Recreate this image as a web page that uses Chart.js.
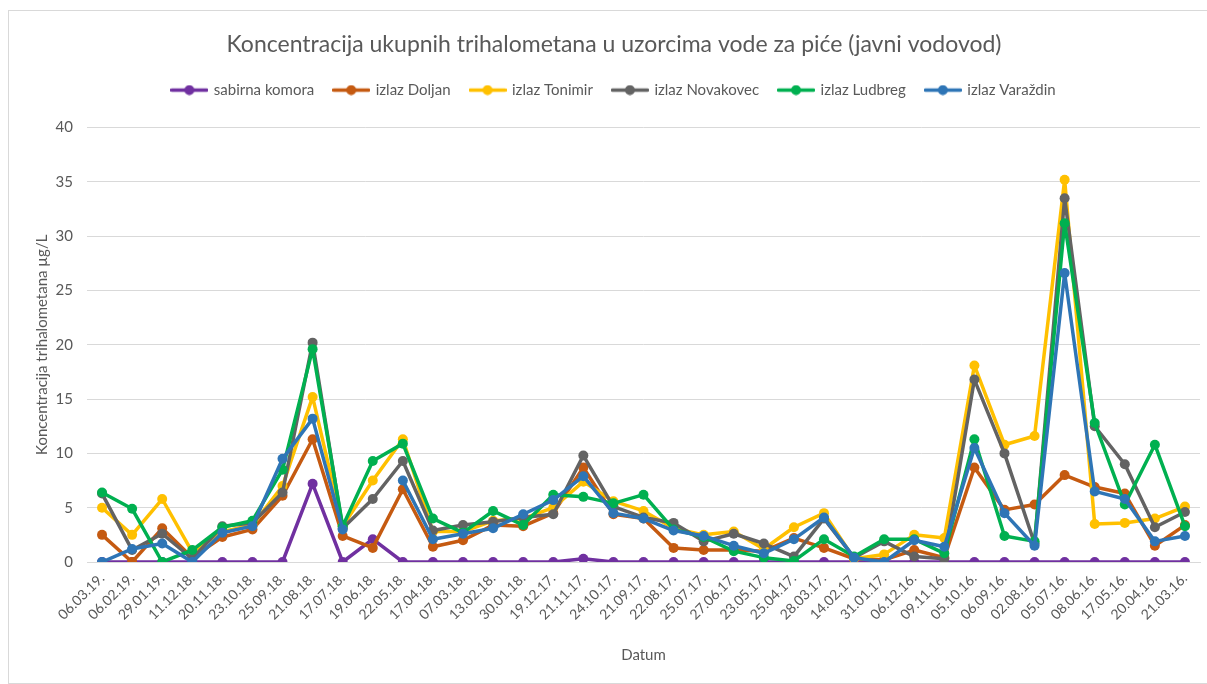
<!DOCTYPE html>
<html>
<head>
<meta charset="utf-8">
<script src="https://cdn.jsdelivr.net/npm/chart.js@4.4.1/dist/chart.umd.min.js"></script>
<style>
  html, body { margin: 0; padding: 0; background: #fff; }
</style>
</head>
<body>
<canvas id="myChart" width="1207" height="684"></canvas>
<script>
const dates = [
  '06.03.19.', '06.02.19.', '29.01.19.', '11.12.18.', '20.11.18.', '23.10.18.', '25.09.18.',
  '21.08.18.', '17.07.18.', '19.06.18.', '22.05.18.', '17.04.18.', '07.03.18.', '13.02.18.',
  '30.01.18.', '19.12.17.', '21.11.17.', '24.10.17.', '21.09.17.', '22.08.17.', '25.07.17.',
  '27.06.17.', '23.05.17.', '25.04.17.', '28.03.17.', '14.02.17.', '31.01.17.', '06.12.16.',
  '09.11.16.', '05.10.16.', '06.09.16.', '02.08.16.', '05.07.16.', '08.06.16.', '17.05.16.',
  '20.04.16.', '21.03.16.'
];

const sabirnaKomora = [0, 0, 0, 0, 0, 0, 0, 7.2, 0, 2.1, 0, 0, 0, 0, 0, 0, 0.3, 0, 0, 0, 0,
  0, 0, 0, 0, 0, 0, 0, 0, 0, 0, 0, 0, 0, 0, 0, 0];
const izlazDoljan = [2.5, 0, 3.1, 0.4, 2.3, 3.0, 6.1, 11.3, 2.4, 1.3, 6.7, 1.4, 2.0, 3.4, 3.3,
  4.5, 8.7, 4.4, 4.0, 1.3, 1.1, 1.1, 1.0, 2.2, 1.3, 0.3, 0.2, 1.1, 0.4, 8.7, 4.8, 5.3, 8.0,
  6.9, 6.3, 1.5, 3.4];
const izlazTonimir = [5.0, 2.5, 5.8, 0.9, 2.8, 3.4, 7.0, 15.2, 3.3, 7.5, 11.3, 2.8, 2.8, 3.8,
  4.0, 5.0, 7.4, 5.6, 4.7, 3.1, 2.5, 2.8, 1.2, 3.2, 4.5, 0.3, 0.7, 2.5, 2.2, 18.1, 10.8, 11.6,
  35.2, 3.5, 3.6, 4.0, 5.1];
const izlazNovakovec = [6.3, 1.1, 2.6, 0.3, 3.3, 3.6, 6.4, 20.2, 3.1, 5.8, 9.3, 2.9, 3.4, 3.7,
  4.1, 4.4, 9.8, 5.1, 4.1, 3.6, 1.9, 2.6, 1.7, 0.5, 4.0, 0.4, 1.9, 0.5, 0.3, 16.8, 10.0, 1.7,
  33.5, 12.5, 9.0, 3.2, 4.6];
const izlazLudbreg = [6.4, 4.9, 0, 1.1, 3.2, 3.8, 8.5, 19.6, 3.3, 9.3, 10.9, 4.0, 2.7, 4.7,
  3.4, 6.2, 6.0, 5.4, 6.2, 3.0, 2.3, 1.0, 0.4, 0.1, 2.1, 0.5, 2.1, 2.1, 0.8, 11.3, 2.4, 1.9,
  31.2, 12.8, 5.3, 10.8, 3.3];
const izlazVarazdin = [0, 1.2, 1.7, 0, 2.7, 3.3, 9.5, 13.2, 3.0, null, 7.5, 2.1, 2.6, 3.1, 4.4,
  5.7, 7.9, 4.5, 4.0, 2.9, 2.4, 1.5, 0.8, 2.1, 4.1, 0.4, 0, 2.0, 1.4, 10.5, 4.5, 1.5, 26.6,
  6.5, 5.8, 1.9, 2.4];

const seriesNames = ['sabirna komora', 'izlaz Doljan', 'izlaz Tonimir', 'izlaz Novakovec',
  'izlaz Ludbreg', 'izlaz Varaždin'];
const seriesData = [sabirnaKomora, izlazDoljan, izlazTonimir, izlazNovakovec, izlazLudbreg,
  izlazVarazdin];
const seriesColors = ['#7030A0', '#C55A11', '#FFC000', '#636363', '#00B050', '#2E75B6'];

const textColor = '#595959';
const font = 'Lato, "Open Sans", sans-serif';

// little line-with-dot marker, like the excel legend
function legendMarker(color) {
  const c = document.createElement('canvas');
  c.width = 38;
  c.height = 11;
  const ctx = c.getContext('2d');
  ctx.strokeStyle = color;
  ctx.lineWidth = 3.5;
  ctx.lineCap = 'round';
  ctx.beginPath();
  ctx.moveTo(1.5, 5.5);
  ctx.lineTo(36.5, 5.5);
  ctx.stroke();
  ctx.fillStyle = color;
  ctx.beginPath();
  ctx.arc(19, 5.5, 5, 0, Math.PI * 2);
  ctx.fill();
  return c;
}
const markers = seriesColors.map(legendMarker);

const frame = {
  id: 'frame',
  beforeDraw(chart) {
    const ctx = chart.ctx;
    ctx.save();
    ctx.fillStyle = '#fff';
    ctx.fillRect(0, 0, chart.width, chart.height);
    ctx.strokeStyle = '#d9d9d9';
    ctx.lineWidth = 1;
    ctx.strokeRect(8.5, 10.5, chart.width - 8, chart.height - 11);
    ctx.restore();
  },
};

const legendGap = {
  id: 'legendGap',
  beforeInit(chart) {
    const fit = chart.legend.fit;
    chart.legend.fit = function () {
      fit.call(this);
      this.height += 20;
    };
  },
};

new Chart('myChart', {
  type: 'line',
  data: {
    labels: dates,
    datasets: seriesNames.map((name, i) => ({
      label: name,
      data: seriesData[i],
      borderColor: seriesColors[i],
      backgroundColor: seriesColors[i],
      borderWidth: 3.5,
      borderJoinStyle: 'round',
      borderCapStyle: 'round',
      pointRadius: 5,
      pointBorderWidth: 0,
      pointHoverRadius: 5,
      fill: false,
      tension: 0,
      spanGaps: false,
      order: seriesNames.length - i,
    })),
  },
  options: {
    responsive: false,
    animation: false,
    layout: { padding: { left: 28, right: 7, top: 0, bottom: 0 } },
    plugins: {
      title: {
        display: true,
        text: 'Koncentracija ukupnih trihalometana u uzorcima vode za piće (javni vodovod)',
        color: textColor,
        font: { family: font, size: 23, weight: 'normal' },
        padding: { top: 31, bottom: 4 },
      },
      legend: {
        display: true,
        position: 'top',
        labels: {
          usePointStyle: true,
          pointStyleWidth: 34,
          padding: 20,
          color: textColor,
          font: { family: font, size: 15 },
          sort: (a, b) => a.datasetIndex - b.datasetIndex,
          generateLabels(chart) {
            const items = Chart.defaults.plugins.legend.labels.generateLabels(chart);
            items.forEach((it) => { it.pointStyle = markers[it.datasetIndex]; });
            return items;
          },
        },
      },
      tooltip: { enabled: false },
    },
    scales: {
      x: {
        offset: true,
        grid: { display: false, drawTicks: false },
        border: { display: true, color: '#d9d9d9' },
        ticks: {
          color: textColor,
          font: { family: font, size: 14 },
          minRotation: 45,
          maxRotation: 45,
          autoSkip: false,
          padding: 8,
        },
        title: {
          display: true,
          text: 'Datum',
          color: textColor,
          font: { family: font, size: 15 },
          padding: { top: 0, bottom: 20 },
        },
        afterFit(scale) { scale.height = 122; },
      },
      y: {
        min: 0,
        max: 40,
        ticks: {
          stepSize: 5,
          color: textColor,
          font: { family: font, size: 15 },
          padding: 14,
        },
        grid: { color: '#d9d9d9', lineWidth: 1, drawTicks: false },
        border: { display: false },
        title: {
          display: true,
          text: 'Koncentracija trihalometana µg/L',
          color: textColor,
          font: { family: font, size: 15 },
          padding: { top: 5, bottom: 0 },
        },
        afterFit(scale) { scale.width = 59; },
      },
    },
  },
  plugins: [frame, legendGap],
});
</script>
</body>
</html>
